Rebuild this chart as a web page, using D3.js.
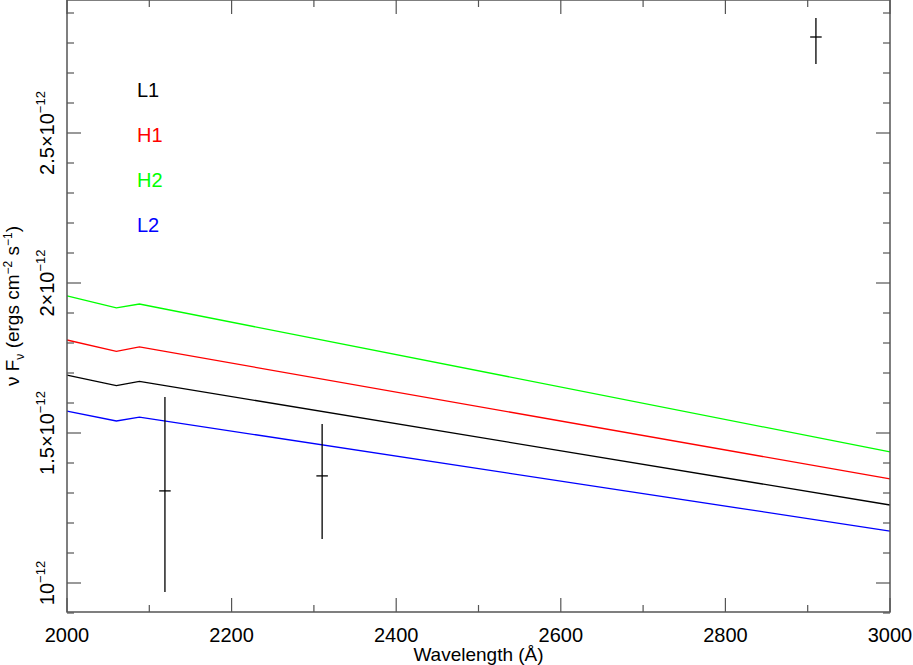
<!DOCTYPE html>
<html><head><meta charset="utf-8">
<script src="https://cdn.jsdelivr.net/npm/d3@7"></script>
<style>body{margin:0;background:#fff}text{font-family:"Liberation Sans",Arial,sans-serif}</style>
</head><body><svg id="c" width="913" height="665"></svg>
<script>
const waves = [2000, 2060, 2088, 3000];
const seriesNames = ["L1", "H1", "H2", "L2"];
const seriesColors = ["#000000", "#ff0000", "#00ff00", "#0000ff"];
const L1 = [1.693, 1.658, 1.672, 1.26];
const H1 = [1.81, 1.772, 1.787, 1.347];
const H2 = [1.957, 1.917, 1.93, 1.437];
const L2 = [1.573, 1.54, 1.553, 1.173];
const seriesValues = [L1, H1, H2, L2];
const ptsX = [2119, 2310, 2910];
const ptsY = [1.307, 1.357, 2.82];
const ptsYlo = [0.97, 1.147, 2.73];
const ptsYhi = [1.62, 1.53, 2.883];
const ptsXerr = [7, 7, 7];
const yTicks = [1.0, 1.5, 2.0, 2.5];
const yTickLabels = ["10", "1.5\u00d710", "2\u00d710", "2.5\u00d710"];

const svg = d3.select("#c");
const L = 67, R = 890, T = 0, B = 612;
const x = d3.scaleLinear().domain([2000, 3000]).range([L, R]);
const y = d3.scaleLinear().domain([1.0 - 29/300, 1.0 + 583/300]).range([B, T]);

const g = svg.append("g");
const line = d3.line().x((d, i) => x(waves[i])).y(d => y(d));
seriesValues.forEach((s, k) => {
  g.append("path").attr("d", line(s)).attr("fill", "none").attr("stroke", seriesColors[k]).attr("stroke-width", 1.3);
});
ptsX.forEach((v, i) => {
  g.append("line").attr("x1", x(v)).attr("x2", x(v)).attr("y1", y(ptsYlo[i])).attr("y2", y(ptsYhi[i])).attr("stroke", "#000").attr("stroke-width", 1.3);
  g.append("line").attr("x1", x(v - ptsXerr[i])).attr("x2", x(v + ptsXerr[i])).attr("y1", y(ptsY[i])).attr("y2", y(ptsY[i])).attr("stroke", "#000").attr("stroke-width", 1.3);
});

svg.append("rect").attr("x", L).attr("y", T).attr("width", R - L).attr("height", B - T).attr("fill", "none").attr("stroke", "#555").attr("stroke-width", 1.5);

const xMajor = d3.range(2000, 3001, 200), xMinor = d3.range(2100, 3000, 200);
const axX = svg.append("g").attr("stroke", "#555").attr("stroke-width", 1.2);
xMajor.forEach(v => { axX.append("line").attr("x1", x(v)).attr("x2", x(v)).attr("y1", B).attr("y2", B - 14); axX.append("line").attr("x1", x(v)).attr("x2", x(v)).attr("y1", T).attr("y2", T + 14); });
xMinor.forEach(v => { axX.append("line").attr("x1", x(v)).attr("x2", x(v)).attr("y1", B).attr("y2", B - 7); axX.append("line").attr("x1", x(v)).attr("x2", x(v)).attr("y1", T).attr("y2", T + 7); });
xMajor.forEach(v => svg.append("text").attr("x", x(v)).attr("y", 642).attr("text-anchor", "middle").attr("font-size", 20).text(v));
svg.append("text").attr("x", (L + R) / 2).attr("y", 661).attr("text-anchor", "middle").attr("font-size", 19).text("Wavelength (\u00c5)");

const axY = svg.append("g").attr("stroke", "#555").attr("stroke-width", 1.2);
d3.range(0.9, 2.95, 0.1).forEach(v => {
  const isMaj = yTicks.some(t => Math.abs(t - v) < 1e-6);
  const len = isMaj ? 14 : 7;
  axY.append("line").attr("x1", L).attr("x2", L + len).attr("y1", y(v)).attr("y2", y(v));
  axY.append("line").attr("x1", R).attr("x2", R - len).attr("y1", y(v)).attr("y2", y(v));
});
yTicks.forEach((v, i) => {
  const t = svg.append("text").attr("transform", `translate(54,${y(v)}) rotate(-90)`).attr("text-anchor", "middle").attr("font-size", 20);
  t.append("tspan").text(yTickLabels[i]);
  t.append("tspan").attr("dy", -9).attr("font-size", 13).text("\u221212");
});
const yl = svg.append("text").attr("transform", `translate(19,306) rotate(-90)`).attr("text-anchor", "middle").attr("font-size", 19);
yl.append("tspan").text("\u03bd F");
yl.append("tspan").attr("dy", 5).attr("font-size", 12).text("\u03bd");
yl.append("tspan").attr("dy", -5).text(" (ergs cm");
yl.append("tspan").attr("dy", -7).attr("font-size", 12).text("\u22122");
yl.append("tspan").attr("dy", 7).text(" s");
yl.append("tspan").attr("dy", -7).attr("font-size", 12).text("\u22121");
yl.append("tspan").attr("dy", 7).text(")");

seriesNames.forEach((n, i) => svg.append("text").attr("x", 137).attr("y", 97 + i * 45).attr("font-size", 20).attr("fill", seriesColors[i]).text(n));
</script></body></html>
